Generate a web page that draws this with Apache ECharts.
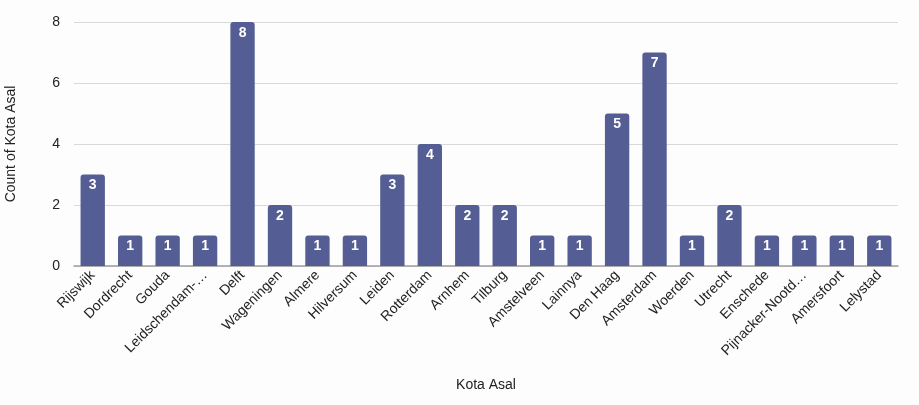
<!DOCTYPE html>
<html>
<head>
<meta charset="utf-8">
<script src="https://cdn.jsdelivr.net/npm/echarts@6/dist/echarts.min.js"></script>
<style>
  html, body { margin: 0; padding: 0; background: #fdfdfd; }
  #chart { width: 919px; height: 405px; }
</style>
</head>
<body>
<div id="chart"></div>
<script>
// Count of Kota Asal per city (bar chart)
var cities = ['Rijswijk', 'Dordrecht', 'Gouda', 'Leidschendam-Voorburg', 'Delft', 'Wageningen',
  'Almere', 'Hilversum', 'Leiden', 'Rotterdam', 'Arnhem', 'Tilburg', 'Amstelveen', 'Lainnya',
  'Den Haag', 'Amsterdam', 'Woerden', 'Utrecht', 'Enschede', 'Pijnacker-Nootdorp', 'Amersfoort', 'Lelystad'];
var counts = [3, 1, 1, 1, 8, 2, 1, 1, 3, 4, 2, 2, 1, 1, 5, 7, 1, 2, 1, 1, 1, 1];
var yTicks = [0, 2, 4, 6, 8];

var chart = echarts.init(document.getElementById('chart'));
var option = {
  backgroundColor: '#fdfdfd',
  textStyle: { fontFamily: 'Liberation Sans, Arial, sans-serif' },
  grid: { left: 74, right: 21, top: 22, bottom: 139, outerBoundsMode: 'none' },
  xAxis: {
    type: 'category',
    data: cities,
    name: 'Kota Asal',
    nameLocation: 'middle',
    nameGap: 112,
    nameTextStyle: { color: '#222', fontSize: 14 },
    axisLine: { lineStyle: { color: '#9e9e9e', width: 1.5 } },
    axisTick: { show: false },
    axisLabel: {
      rotate: 45,
      interval: 0,
      color: '#222',
      fontSize: 14,
      margin: 7,
      width: 117,
      overflow: 'truncate',
      ellipsis: '…'
    }
  },
  yAxis: {
    type: 'value',
    min: yTicks[0],
    max: yTicks[yTicks.length - 1],
    interval: 2,
    name: 'Count of Kota Asal',
    nameLocation: 'middle',
    nameGap: 56,
    nameTextStyle: { color: '#222', fontSize: 14 },
    axisLine: { show: false },
    axisTick: { show: false },
    axisLabel: { color: '#222', fontSize: 14, margin: 14 },
    splitLine: { lineStyle: { color: '#d9d9d9', width: 1 } }
  },
  series: [{
    name: 'Count of Kota Asal',
    type: 'bar',
    data: counts,
    barWidth: '65%',
    itemStyle: { color: '#555e94', borderRadius: [3, 3, 0, 0] },
    label: {
      show: true,
      position: 'insideTop',
      distance: 4,
      color: '#ffffff',
      fontWeight: 'bold',
      fontSize: 14
    }
  }]
};
chart.setOption(option);

window.addEventListener('resize', () => {
  chart.resize();
});
</script>
</body>
</html>
